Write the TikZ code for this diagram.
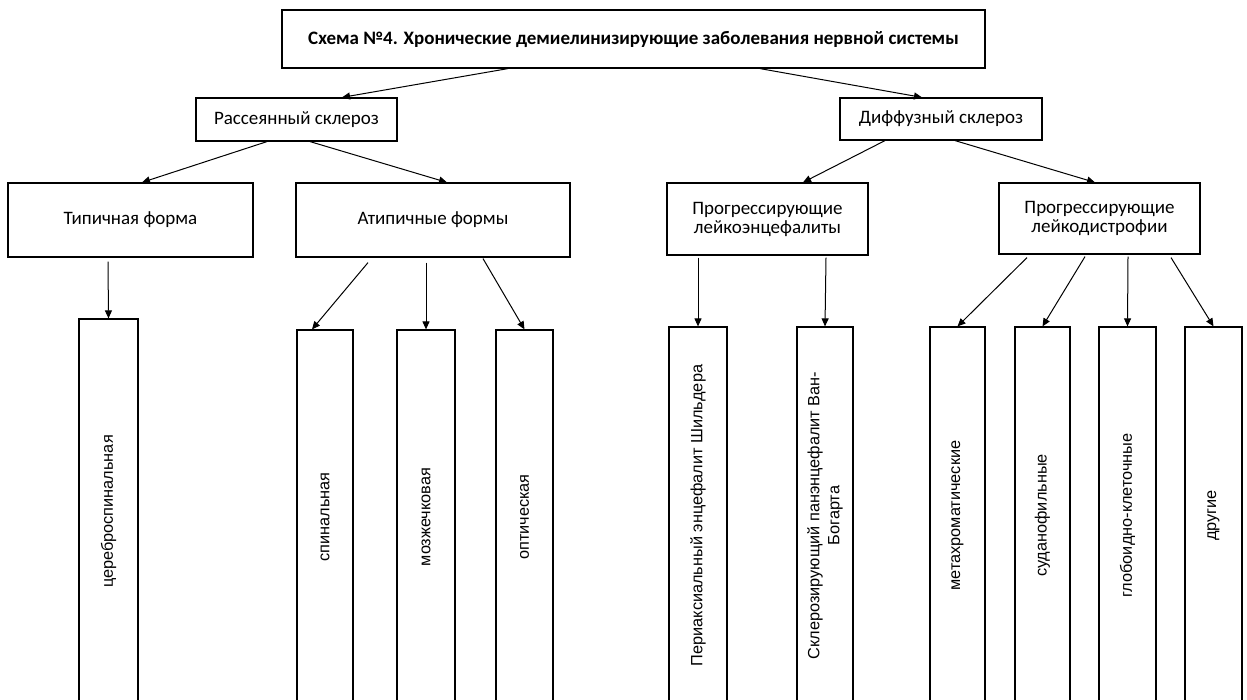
\documentclass[tikz,border=0pt]{standalone}
\usepackage{fontspec}
\setmainfont{Carlito}
\newfontfamily\vfont{Liberation Sans}
\usetikzlibrary{calc,arrows.meta}
\tikzset{
  box/.style={draw=black, line width=1.2pt, fill=white, inner sep=0pt, align=center,
    font=\fontsize{19}{19}\selectfont},
  tall/.style={draw=black, line width=1.2pt, inner sep=0pt, minimum height=385},
  vtxt/.style={rotate=90, align=center, inner sep=0pt, font=\vfont\fontsize{16.3}{20}\selectfont},
  arr/.style={draw=black, line width=1pt, -{Triangle[length=8pt,width=7pt]}}
}
\begin{document}
\begin{tikzpicture}[x=1pt,y=-1pt]
\useasboundingbox (0,0) rectangle (1247,700);
\fill[white] (0,0) rectangle (1247,700);
\clip (0,0) rectangle (1247,700);
% top level
\node[box, minimum width=703, minimum height=58, font=\bfseries\fontsize{19}{19}\selectfont] (title) at (633.5,39) {Схема №4. Хронические демиелинизирующие заболевания нервной системы};
\node[box, minimum width=201, minimum height=43] (ras) at (296.5,119.5) {Рассеянный склероз};
\node[box, minimum width=202, minimum height=42] (dif) at (941,119) {Диффузный склероз};
\node[box, minimum width=245, minimum height=74] (typ) at (130.5,220) {Типичная форма};
\node[box, minimum width=274, minimum height=74] (atyp) at (433,220) {Атипичные формы};
\node[box, minimum width=201, minimum height=72] (lenc) at (767.5,219) {Прогрессирующие\\лейкоэнцефалиты};
\node[box, minimum width=201, minimum height=71] (ldys) at (1099.5,218.5) {Прогрессирующие\\лейкодистрофии};
% tall boxes
\node[tall, minimum width=59, minimum height=385] (cereb) at (108.5,511.5) {};
\node[tall, minimum width=56, minimum height=374] (spin) at (325,517) {};
\node[tall, minimum width=58, minimum height=374] (mozh) at (426,517) {};
\node[tall, minimum width=57, minimum height=374] (opt) at (524.5,517) {};
\node[tall, minimum width=58, minimum height=377] (peri) at (698,515.5) {};
\node[tall, minimum width=56, minimum height=377] (skler) at (825,515.5) {};
\node[tall, minimum width=55, minimum height=377] (meta) at (957.5,515.5) {};
\node[tall, minimum width=55, minimum height=377] (sudan) at (1042.5,515.5) {};
\node[tall, minimum width=57, minimum height=377] (glob) at (1127.5,515.5) {};
\node[tall, minimum width=57, minimum height=377] (drug) at (1213.5,515.5) {};
% vertical texts
\node[vtxt] (cereb-t) at (cereb.center) {цереброспинальная};
\node[vtxt] (spin-t) at (spin.center) {спинальная};
\node[vtxt] (mozh-t) at (mozh.center) {мозжечковая};
\node[vtxt] (opt-t) at (opt.center) {оптическая};
\node[vtxt] (peri-t) at (peri.center) {Периаксиальный энцефалит Шильдера};
\node[vtxt] (skler-t) at (skler.center) {Склерозирующий панэнцефалит Ван-\\Богарта};
\node[vtxt] (meta-t) at (meta.center) {метахроматические};
\node[vtxt] (sudan-t) at (sudan.center) {суданофильные};
\node[vtxt] (glob-t) at (glob.center) {глобоидно-клеточные};
\node[vtxt] (drug-t) at (drug.center) {другие};
% connectors
\draw[arr] ($(title.south)+(-125.5,0)$) -- ($(ras.north)+(45.5,0)$);
\draw[arr] ($(title.south)+(126.5,0)$) -- ($(dif.north)+(-19,0)$);
\draw[arr] ($(ras.south)+(-29.5,0)$) -- ($(typ.north)+(11.5,0)$);
\draw[arr] ($(ras.south)+(13.5,0)$) -- ($(atyp.north)+(14,0)$);
\draw[arr] ($(dif.south)+(-56,0)$) -- ($(lenc.north)+(35.5,0)$);
\draw[arr] ($(dif.south)+(14,0)$) -- ($(ldys.north)+(-4.5,0)$);
\draw[arr] ($(typ.south)+(-22.5,4)$) -- (cereb.north);
\draw[arr] ($(atyp.south)+(-65,5)$) -- ($(spin.north)+(-13,0)$);
\draw[arr] ($(atyp.south)+(-7,5)$) -- (mozh.north);
\draw[arr] ($(atyp.south)+(50,1)$) -- (opt.north);
\draw[arr] ($(lenc.south)+(-69.5,2)$) -- (peri.north);
\draw[arr] ($(lenc.south)+(58.5,2)$) -- (skler.north);
\draw[arr] ($(ldys.south)+(-72.5,3)$) -- (meta.north);
\draw[arr] ($(ldys.south)+(-14.5,2)$) -- (sudan.north);
\draw[arr] ($(ldys.south)+(28.5,2)$) -- (glob.north);
\draw[arr] ($(ldys.south)+(71.5,3)$) -- (drug.north);
\end{tikzpicture}
\end{document}
